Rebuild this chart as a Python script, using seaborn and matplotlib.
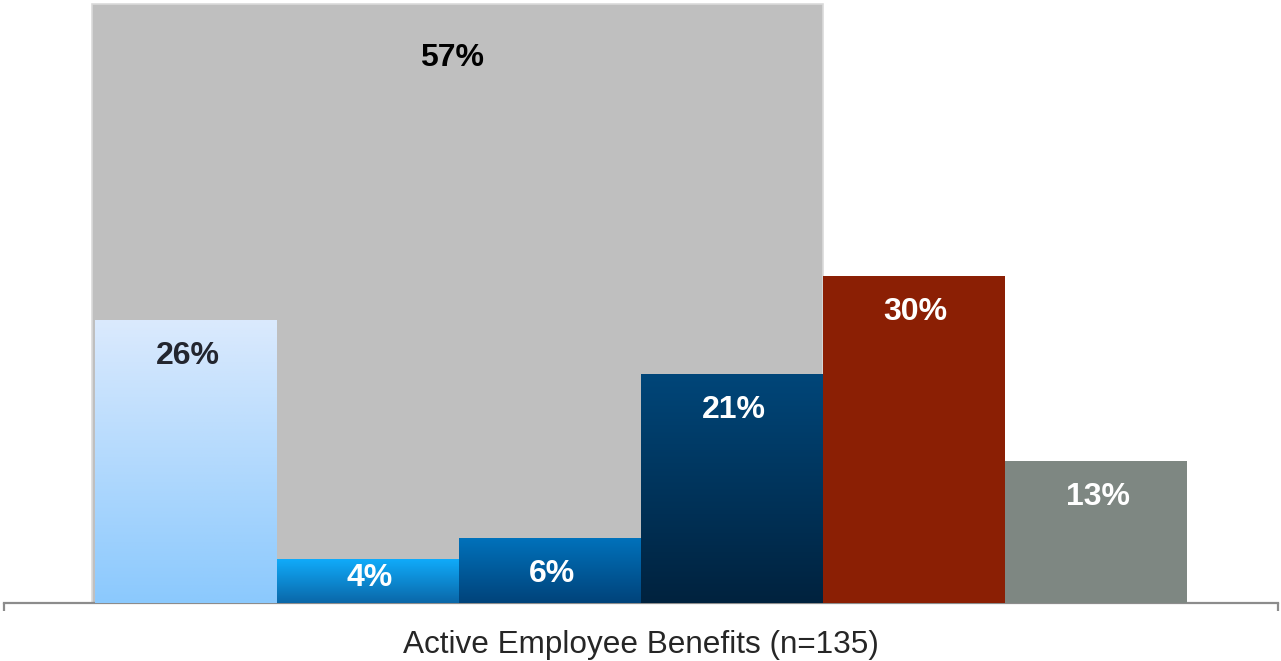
import numpy as np
import pandas as pd
import matplotlib
matplotlib.use("Agg")
import matplotlib.pyplot as plt
from matplotlib.colors import LinearSegmentedColormap
import seaborn as sns

# Data
groups = ["Group 1", "Group 2", "Group 3", "Group 4", "Group 5", "Group 6"]
values = [26, 4, 6, 21, 30, 13]
total_value = 57
axis_label = "Active Employee Benefits (n=135)"

# Bar styles: (top colour, bottom colour); equal colours give a flat fill
bar_fills = [
    ("#dbeafd", "#8bc9fd"),
    ("#10abfa", "#0a67a8"),
    ("#0072bc", "#00437a"),
    ("#004679", "#00223e"),
    ("#8b1f04", "#8b1f04"),
    ("#7e8782", "#7e8782"),
]
label_colors = ["#23262f", "white", "white", "white", "white", "white"]

sns.set_theme(style="white")
plt.rcParams["font.family"] = ["Liberation Sans", "DejaVu Sans"]

W, H, DPI = 1281, 661, 100
fig = plt.figure(figsize=(W / DPI, H / DPI), dpi=DPI)
ax_bg = fig.add_axes([4 / W, (H - 603) / H, (1278 - 4) / W, 603 / H])
ax = ax_bg.twinx()

positions = np.arange(len(values), dtype=float)
df = pd.DataFrame({"pos": positions, "value": values, "group": groups})

# Total bar behind the first four groups
span = 4
ax_bg.bar(positions[:span].mean() - 0.008, total_value, width=span + 0.016,
          color="#bfbfbf", edgecolor="#dadada", linewidth=1.2, zorder=1)
ax_bg.text(positions[:span].mean() - 0.04, total_value - 5.1, f"{total_value}%",
           ha="center", va="center", fontsize=23, fontweight="bold",
           color="black", zorder=3)

# Group bars
sns.barplot(data=df, x="pos", y="value", hue="group", hue_order=groups,
            palette=[f[1] for f in bar_fills], native_scale=True,
            dodge=False, width=1.0, saturation=1, legend=False,
            linewidth=0, errorbar=None, ax=ax)

for patch, (top_c, bot_c) in zip(ax.patches, bar_fills):
    if top_c == bot_c:
        continue
    x0, y0 = patch.get_x(), patch.get_y()
    w, h = patch.get_width(), patch.get_height()
    cmap = LinearSegmentedColormap.from_list("grad", [bot_c, top_c])
    grad = np.linspace(0, 1, 256).reshape(-1, 1)
    im = ax.imshow(grad, cmap=cmap, origin="lower", aspect="auto",
                   extent=[x0, x0 + w, y0, y0 + h], zorder=patch.get_zorder() + 0.1,
                   interpolation="bilinear")
    im.set_clip_path(patch)

for x, v, c in zip(positions, values, label_colors):
    y = v - 3.3 if v >= 5 else v * 0.58
    ax.text(x + 0.01, y, f"{v}%", ha="center", va="center", fontsize=23,
            fontweight="bold", color=c, zorder=5)

# Scales
ax.set_xlim(-1, len(values))
ax_bg.set_xlim(-1, len(values))
ax.set_ylim(0, 603 / 10.9)
ax_bg.set_ylim(0, total_value * 603 / 599)

# Axes decoration
for a in (ax, ax_bg):
    for s in a.spines.values():
        s.set_visible(False)
    a.set_yticks([])
    a.set_ylabel("")
ax_bg.spines["bottom"].set_visible(True)
ax_bg.spines["bottom"].set_color("#8c8c8c")
ax_bg.spines["bottom"].set_linewidth(1.6)
ax_bg.set_xticks([-1, len(values)])
ax_bg.set_xticklabels(["", ""])
ax_bg.tick_params(axis="x", bottom=True, direction="out", length=6,
                  width=1.6, color="#8c8c8c")
ax.tick_params(axis="x", bottom=False, labelbottom=False)
ax.set_xlabel("")
ax_bg.set_xlabel(axis_label, fontsize=22.7, color="#262626", labelpad=10)
ax_bg.patch.set_visible(False)
fig.patch.set_facecolor("white")

fig.savefig("out.png", dpi=DPI, facecolor="white")
